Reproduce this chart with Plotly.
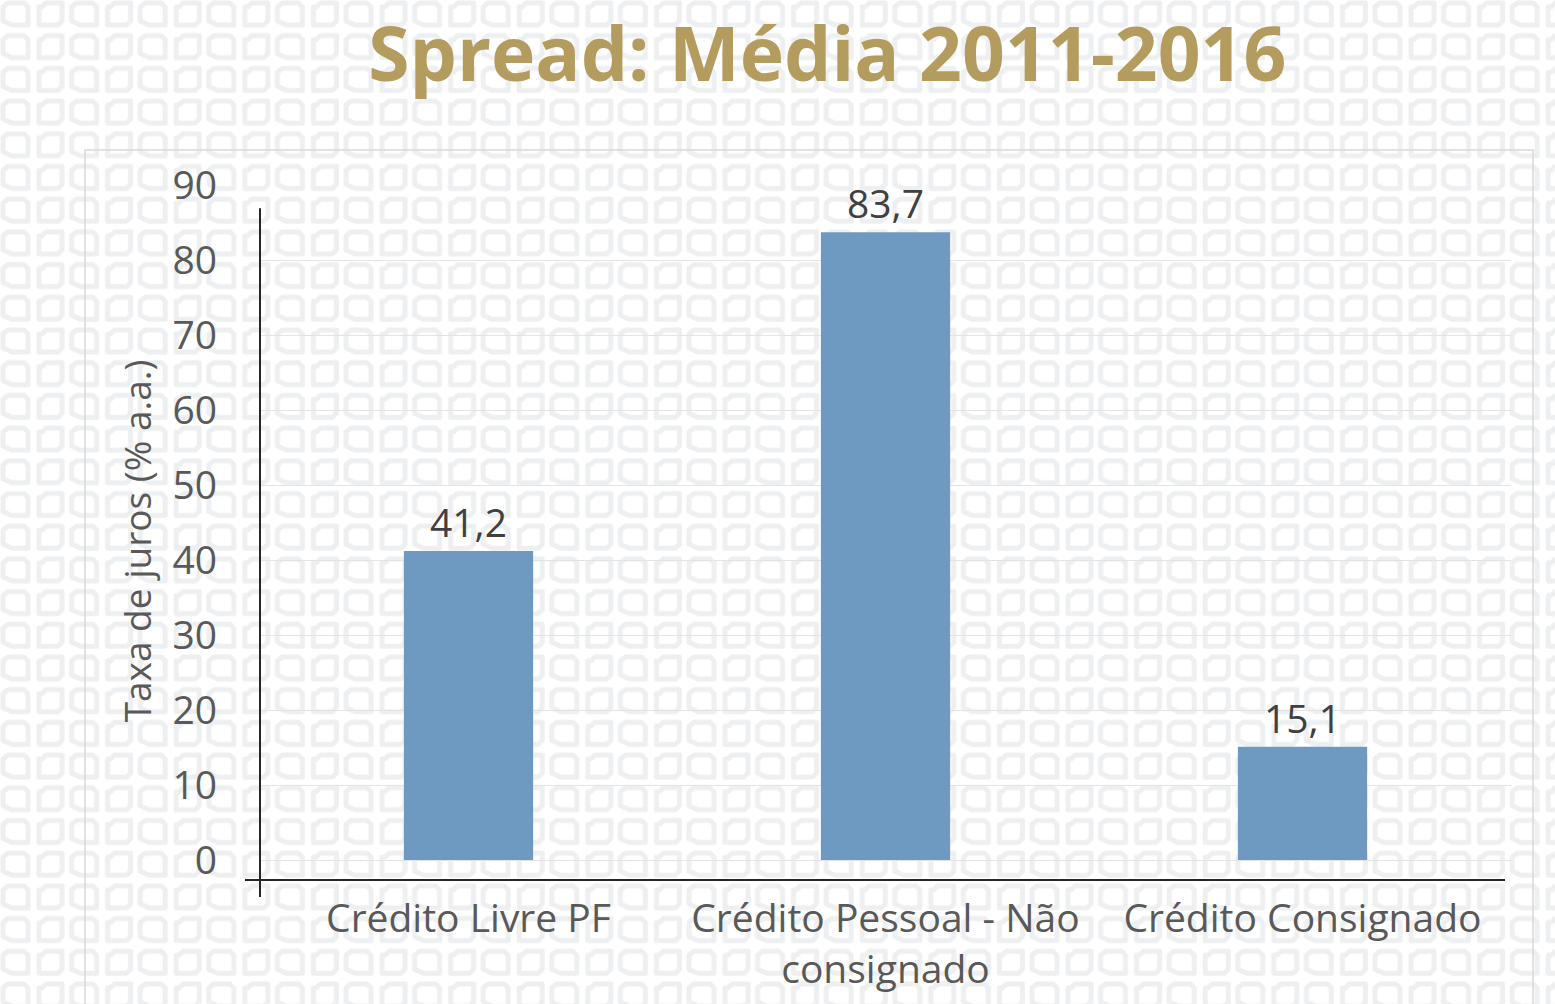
import plotly.graph_objects as go
import base64

categories = ["Crédito Livre PF", "Crédito Pessoal - Não<br>consignado", "Crédito Consignado"]
values = [41.2, 83.7, 15.1]
tick_vals = [0, 10, 20, 30, 40, 50, 60, 70, 80, 90]

W, H = 1555, 1004

# decorative background pattern (SVG)
svg = f'''<svg xmlns="http://www.w3.org/2000/svg" width="{W}" height="{H}">
<defs><pattern id="p" width="68.6" height="32.7" patternUnits="userSpaceOnUse" x="-4" y="-2">
<polygon points="12,5 28,5 32,9 32,27 16,27 7,23 7,9" fill="none" stroke="#EEEFF1" stroke-width="5" stroke-linejoin="round"/>
<polygon points="46,9 50,5 66,5 66,23 62,27 43,27 43,23 43,9" fill="none" stroke="#EEEFF1" stroke-width="5" stroke-linejoin="round"/>
</pattern></defs>
<rect width="{W}" height="{H}" fill="#FFFFFF"/>
<rect width="{W}" height="{H}" fill="url(#p)"/>
</svg>'''
src = "data:image/svg+xml;base64," + base64.b64encode(svg.encode()).decode()

font = "Open Sans"

fig = go.Figure()
fig.add_trace(go.Bar(
    x=categories, y=values,
    marker=dict(color="#6E9AC2", line=dict(width=0)),
    width=0.31,
    text=[f"{v:.1f}".replace(".", ",") for v in values],
    textposition="outside",
    textfont=dict(family=font, size=39, color="#404040"),
    cliponaxis=False,
))

fig.update_layout(
    width=W, height=H,
    margin=dict(l=0, r=0, t=0, b=0, autoexpand=False),
    paper_bgcolor="rgba(0,0,0,0)",
    plot_bgcolor="rgba(0,0,0,0)",
    showlegend=False,
    separators=",.",
    images=[dict(source=src, xref="paper", yref="paper", x=0, y=1, sizex=1, sizey=1,
                 xanchor="left", yanchor="top", sizing="stretch", layer="below")],
    title=dict(text="<b>Spread: Média 2011-2016</b>", x=0.532, xanchor="center",
               y=0.945, yanchor="middle", automargin=False,
               font=dict(family=font, size=75, color="#B49B5E")),
    xaxis=dict(domain=[260/W, 1511/W], showline=False, showgrid=False, ticks="",
               automargin=False, ticklabelstandoff=-5,
               tickfont=dict(family=font, size=39, color="#595959"), zeroline=False),
    yaxis=dict(domain=[(H-897)/H, (H-185)/H], range=[-4.93, 90], tickvals=tick_vals,
               showgrid=True, gridcolor="#E3E3E3", gridwidth=1.3, zeroline=False,
               showline=False, ticks="", ticklabelstandoff=42, automargin=False,
               tickfont=dict(family=font, size=39, color="#595959"),
               title=dict(text="Taxa de juros (% a.a.)", standoff=9,
                          font=dict(family=font, size=37, color="#595959"))),
    shapes=[
        # outer chart frame
        dict(type="rect", xref="paper", yref="paper", x0=85/W, x1=1533/W, y0=-0.01, y1=(H-150)/H,
             line=dict(color="#D9D9D9", width=1.5), layer="below"),
        # y axis line
        dict(type="line", xref="paper", yref="y", x0=260/W, x1=260/W, y0=-4.93, y1=86.9,
             line=dict(color="#262626", width=2)),
        # x axis line
        dict(type="line", xref="paper", yref="y", x0=245/W, x1=1505/W, y0=-2.67, y1=-2.67,
             line=dict(color="#262626", width=2)),
    ],
)

fig.write_html("out.html")
